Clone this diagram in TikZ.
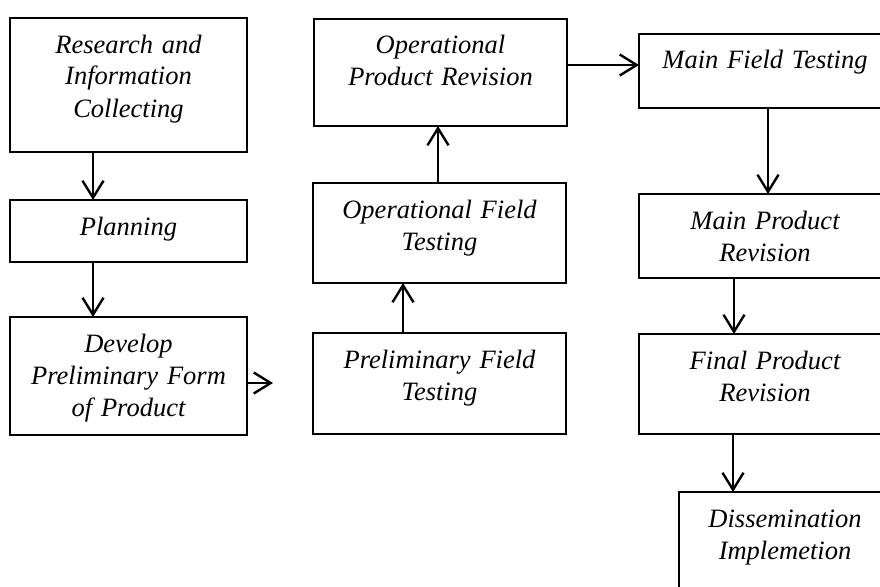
\documentclass[tikz,border=0pt]{standalone}
\usepackage{fontspec}
\setmainfont{Liberation Serif}
\usetikzlibrary{arrows.meta,calc}
\tikzset{
  stage/.style={draw, line width=1.2pt, rectangle, inner sep=0pt, outer sep=0pt, anchor=north west},
  stagetext/.style={anchor=base, align=center, text width=300pt, inner sep=0pt,
    font=\fontsize{26.5}{32}\selectfont\itshape},
  arr/.style={line width=2.4pt, -{Straight Barb[length=17pt,width=21pt]}}
}
\newcommand\stagebox[6]{%
  \node[stage, minimum width={#4pt-#2pt}, minimum height={#5pt-#3pt}] (#1) at (#2,#3) {};
  \node[stagetext] (#1t) at ([yshift=-35pt]#1.north) {#6};
}
\begin{document}
\begin{tikzpicture}[x=1pt,y=-1pt]
  \useasboundingbox (0,0) rectangle (880,586);
  \clip (0,0) rectangle (880,586);
  \stagebox{b1}{10}{18}{247}{152}{Research and\\Information\\Collecting}
  \stagebox{b2}{10}{200}{247}{262}{Planning}
  \stagebox{b3}{10}{317}{247}{435}{Develop\\Preliminary Form\\of Product}
  \stagebox{b4}{313}{333}{566}{434}{Preliminary Field\\Testing}
  \stagebox{b5}{313}{183}{566}{283}{Operational Field\\Testing}
  \stagebox{b6}{314}{19}{567}{126}{Operational\\Product Revision}
  \stagebox{b7}{639}{34}{891}{108}{Main Field Testing}
  \stagebox{b8}{639}{194}{891}{278}{Main Product\\Revision}
  \stagebox{b9}{639}{334}{891}{434}{Final Product\\Revision}
  \stagebox{b10}{679}{492}{891}{640}{Dissemination\\Implemetion}
  \coordinate (c1) at (273,383);
  \draw[arr] ([xshift=-35.5pt]b1.south) -- ([xshift=-35.5pt]b1.south |- b2.north);
  \draw[arr] ([xshift=-35.5pt]b2.south) -- ([xshift=-35.5pt]b2.south |- b3.north);
  \draw[arr] (b3.east |- c1) -- (c1);
  \draw[arr] ([xshift=-36.5pt]b4.north) -- ([xshift=-36.5pt]b4.north |- b5.south);
  \draw[arr] ([xshift=-1.5pt]b5.north) -- ([xshift=-1.5pt]b5.north |- b6.south);
  \draw[arr] ([yshift=7.5pt]b6.east) -- ([yshift=7.5pt]b6.east -| b7.west);
  \draw[arr] ([xshift=3pt]b7.south) -- ([xshift=3pt]b7.south |- b8.north);
  \draw[arr] ([xshift=-31pt]b8.south) -- ([xshift=-31pt]b8.south |- b9.north);
  \draw[arr] ([xshift=-32pt]b9.south) -- ([xshift=-32pt]b9.south |- b10.north);
\end{tikzpicture}
\end{document}
